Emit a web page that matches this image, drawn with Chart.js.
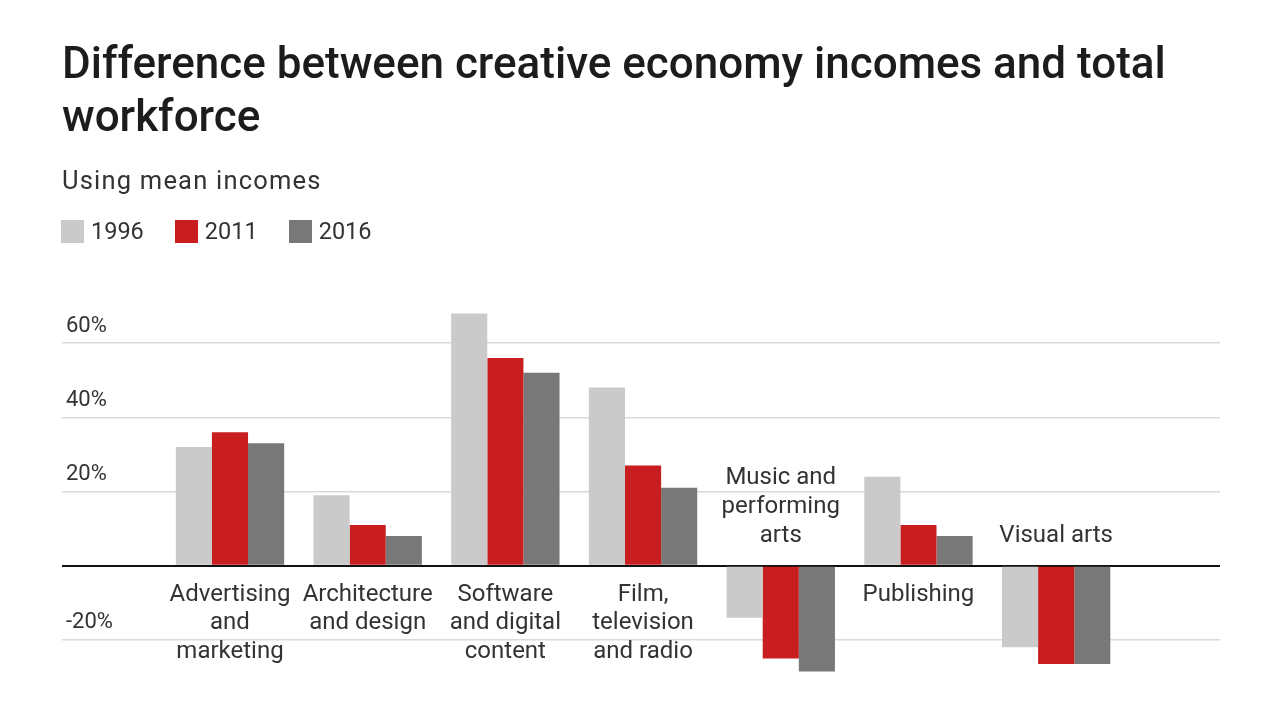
<!DOCTYPE html>
<html>
<head>
<meta charset="utf-8">
<script src="https://cdn.jsdelivr.net/npm/chart.js@4.4.1/dist/chart.umd.min.js"></script>
<style>
  html, body { margin: 0; padding: 0; background: #fff; }
  body { width: 1271px; height: 716px; position: relative; overflow: hidden; font-family: Roboto, 'Noto Sans', sans-serif; }
  #chartWrap { position: absolute; left: 0; top: 0; width: 1271px; height: 716px; }
  h1 { position: absolute; left: 62px; top: 37px; margin: 0; width: 1190px; font-size: 44px; font-weight: 500; line-height: 53px; color: #1c1c1c; }
  .sub { position: absolute; left: 62px; top: 165px; font-size: 25.5px; letter-spacing: 1.2px; color: #333; }
  #legend { position: absolute; left: 61px; top: 217px; display: flex; font-size: 23.5px; color: #333; }
  .item { display: flex; align-items: center; margin-right: 31px; }
  .swatch { width: 23px; height: 23px; margin-right: 7px; }
</style>
</head>
<body>
<div id="chartWrap"><canvas id="chart"></canvas></div>
<h1>Difference between creative economy incomes and total workforce</h1>
<div class="sub">Using mean incomes</div>
<div id="legend"></div>
<script>
// ── Data ──
const categories = [
    ['Advertising', 'and', 'marketing'],
    ['Architecture', 'and design'],
    ['Software', 'and digital', 'content'],
    ['Film,', 'television', 'and radio'],
    ['Music and', 'performing', 'arts'],
    ['Publishing'],
    ['Visual arts']
];
const seriesNames = ['1996', '2011', '2016'];
const seriesColors = ['#cacaca', '#c81e1f', '#787878'];
const values1996 = [32, 19, 68, 48, -14, 24, -22];
const values2011 = [36, 11, 56, 27, -25, 11, -26.5];
const values2016 = [33, 8, 52, 21, -28.5, 8, -26.5];
const yTicks = [-20, 0, 20, 40, 60];

// ── Legend ──
const legend = document.getElementById('legend');
seriesNames.forEach((name, i) => {
    const item = document.createElement('div');
    item.className = 'item';
    item.innerHTML = `<span class="swatch" style="background:${seriesColors[i]}"></span>${name}`;
    legend.appendChild(item);
});

// ── Category labels under / over the zero line ──
const categoryLabels = {
    id: 'categoryLabels',
    afterDraw(chart) {
        const { ctx, scales: { x, y } } = chart;
        const zero = y.getPixelForValue(0);
        const lineH = 28.7;
        ctx.save();
        ctx.font = '24px Roboto';
        ctx.fillStyle = '#333';
        ctx.textAlign = 'center';
        ctx.textBaseline = 'alphabetic';
        categories.forEach((lines, i) => {
            const cx = x.getPixelForValue(i);
            const negative = values1996[i] < 0 && values2011[i] < 0 && values2016[i] < 0;
            lines.forEach((line, j) => {
                const yy = negative
                    ? zero - 24 - (lines.length - 1 - j) * lineH
                    : zero + 35 + j * lineH;
                ctx.fillText(line, cx, yy);
            });
        });
        ctx.restore();
    }
};

const allSeries = [values1996, values2011, values2016];

new Chart(document.getElementById('chart'), {
    type: 'bar',
    data: {
        datasets: allSeries.map((vals, i) => ({
            label: seriesNames[i],
            data: vals.map((v, k) => ({ x: k, y: v })),
            backgroundColor: seriesColors[i],
            borderWidth: 0,
            barPercentage: 1,
            categoryPercentage: 0.787
        }))
    },
    options: {
        responsive: true,
        maintainAspectRatio: false,
        animation: false,
        layout: { padding: { left: 62, right: 51, top: 306, bottom: 39 } },
        plugins: { legend: { display: false }, tooltip: { enabled: false } },
        scales: {
            x: {
                type: 'linear',
                min: -1.22,
                max: 7.19,
                offset: false,
                display: false
            },
            y: {
                min: -30,
                max: 70,
                afterBuildTicks: scale => { scale.ticks = yTicks.map(v => ({ value: v })); },
                afterFit: scale => { scale.width = 0; },
                border: { display: false },
                grid: {
                    drawTicks: false,
                    color: c => c.tick.value === 0 ? '#111' : '#d9d9d9',
                    lineWidth: c => c.tick.value === 0 ? 2 : 1.5
                },
                ticks: {
                    mirror: true,
                    padding: 4,
                    labelOffset: -17,
                    color: '#333',
                    font: { family: 'Roboto', size: 22 },
                    callback: v => v === 0 ? '' : v + '%'
                }
            }
        }
    },
    plugins: [categoryLabels]
});
</script>
</body>
</html>
